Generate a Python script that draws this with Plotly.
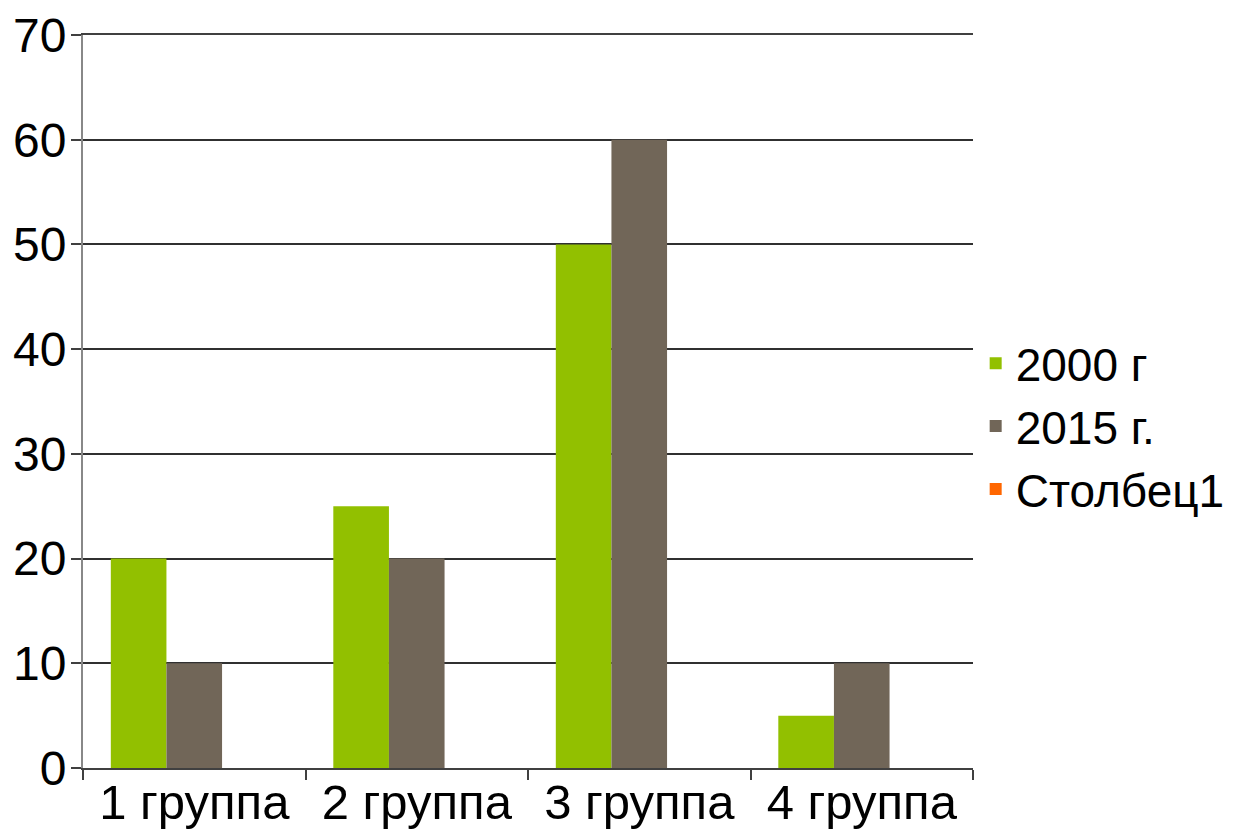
import plotly.graph_objects as go

categories = ["1 группа", "2 группа", "3 группа", "4 группа"]
series_names = ["2000 г", "2015 г.", "Столбец1"]
values_2000 = [20, 25, 50, 5]
values_2015 = [10, 20, 60, 10]
values_col1 = [0, 0, 0, 0]
colors = ["#92C000", "#716658", "#FF6600"]

fig = go.Figure()
for name, vals, col in zip(series_names, [values_2000, values_2015, values_col1], colors):
    fig.add_trace(go.Bar(x=categories, y=vals, name=name, marker=dict(color=col, line=dict(width=0))))

font = "Liberation Sans, Arial, sans-serif"
fig.update_layout(
    width=1243, height=836,
    barmode="group", bargap=0.25, bargroupgap=0,
    plot_bgcolor="white", paper_bgcolor="white",
    margin=dict(l=83, r=270, t=35, b=68),
    font=dict(family=font, size=48, color="#000000"),
    showlegend=True,
    legend=dict(x=1.003, y=0.466, xanchor="left", yanchor="middle",
                font=dict(size=46, family=font), itemsizing="constant",
                tracegroupgap=0, bgcolor="rgba(0,0,0,0)"),
    xaxis=dict(showline=True, linecolor="#404040", linewidth=2, automargin=False, mirror=True,
               ticks="outside", tickson="boundaries", ticklen=10, tickcolor="#404040", tickwidth=2,
               ticklabelstandoff=-10, showgrid=False, tickfont=dict(size=49)),
    yaxis=dict(range=[0, 70], tickvals=[0, 10, 20, 30, 40, 50, 60, 70], showline=True,
               linecolor="#888888", linewidth=2, automargin=False,
               ticks="outside", ticklen=10, tickcolor="#404040", tickwidth=2,
               ticklabelstandoff=-5,
               showgrid=True, gridcolor="#303030", gridwidth=1.5, zeroline=False,
               tickfont=dict(size=48)),
)
fig.write_html("out.html")
